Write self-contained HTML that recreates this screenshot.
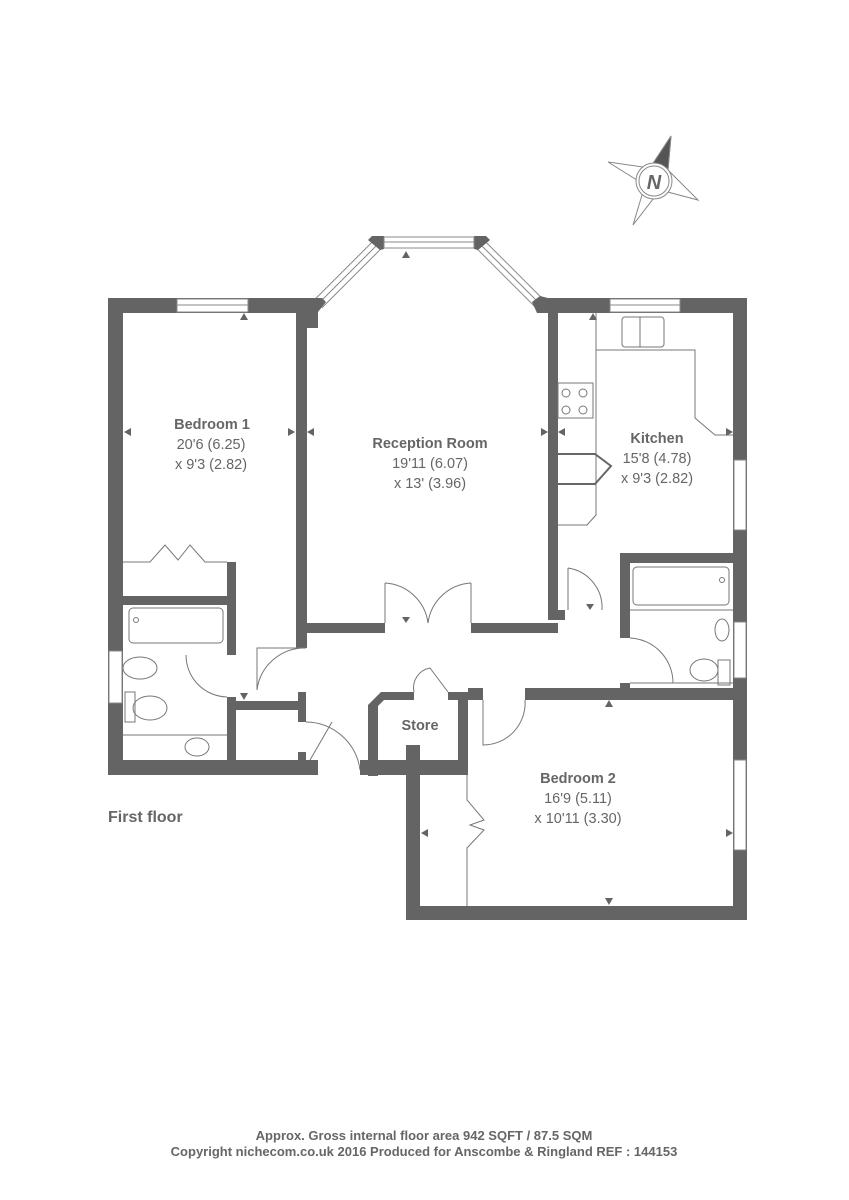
<!DOCTYPE html>
<html><head><meta charset="utf-8"><style>
html,body{margin:0;padding:0;background:#fff;}
svg{display:block}
text{font-family:"Liberation Sans",sans-serif;fill:#666;}
</style></head><body>
<svg width="849" height="1200" viewBox="0 0 849 1200" xmlns="http://www.w3.org/2000/svg">
<!-- bay diagonal windows -->
<g stroke-linecap="butt">
<line x1="318" y1="304" x2="380" y2="242" stroke="#888" stroke-width="12"/>
<line x1="318" y1="304" x2="380" y2="242" stroke="#fff" stroke-width="10"/>
<line x1="318" y1="304" x2="380" y2="242" stroke="#888" stroke-width="1"/>
<line x1="478" y1="242" x2="540" y2="304" stroke="#888" stroke-width="12"/>
<line x1="478" y1="242" x2="540" y2="304" stroke="#fff" stroke-width="10"/>
<line x1="478" y1="242" x2="540" y2="304" stroke="#888" stroke-width="1"/>
</g>
<g fill="#646464">
<rect x="108" y="298" width="15" height="477"/>
<rect x="108" y="298" width="210" height="15"/>
<rect x="108" y="760" width="210" height="15"/>
<rect x="296" y="313" width="11" height="335"/>
<rect x="306" y="298" width="12" height="30"/>
<polygon points="310,298 322,298 326,302 318,312 310,312"/>
<polygon points="372,236 384,236 384,249 380,250 368,240"/>
<polygon points="474,236 486,236 490,240 478,250 474,249"/>
<polygon points="532,302 540,296 548,298 548,313 537,313"/>
<rect x="537" y="298" width="210" height="15"/>
<rect x="548" y="313" width="10" height="307"/>
<rect x="733" y="298" width="14" height="622"/>
<rect x="306" y="623" width="79" height="10"/>
<rect x="471" y="623" width="87" height="10"/>
<rect x="548" y="610" width="17" height="10"/>
<rect x="620" y="553" width="127" height="10"/>
<rect x="620" y="553" width="10" height="85"/>
<rect x="620" y="683" width="10" height="12"/>
<rect x="468" y="688" width="15" height="12"/>
<rect x="525" y="688" width="222" height="12"/>
<rect x="406" y="745" width="14" height="175"/>
<rect x="406" y="906" width="341" height="14"/>
<rect x="458" y="692" width="10" height="83"/>
<polygon points="368,776 368,705 381,692 414,692 414,700 384,700 378,706 378,776"/>
<rect x="448" y="692" width="20" height="8"/>
<rect x="360" y="760" width="108" height="15"/>
<rect x="123" y="596" width="113" height="9"/>
<rect x="227" y="562" width="9" height="93"/>
<rect x="227" y="697" width="9" height="65"/>
<rect x="236" y="701" width="70" height="9"/>
<rect x="298" y="692" width="8" height="30"/>
<rect x="298" y="752" width="8" height="10"/>
<rect x="306" y="760" width="12" height="15"/>
</g>
<g fill="#fff" stroke="#888" stroke-width="1">
<rect x="177" y="299" width="71" height="13"/>
<line x1="177" y1="305" x2="248" y2="305"/>
<rect x="384" y="237" width="90" height="11"/>
<line x1="384" y1="242" x2="474" y2="242"/>
<rect x="610" y="299" width="70" height="13"/>
<line x1="610" y1="305" x2="680" y2="305"/>
<rect x="734" y="460" width="12" height="70"/>
<rect x="734" y="622" width="12" height="56"/>
<rect x="734" y="760" width="12" height="90"/>
<rect x="109" y="651" width="13" height="52"/>
</g>
<g fill="none" stroke="#777" stroke-width="1">
<path d="M385,583 L385,623 M385,583 A46,46 0 0 1 428,623"/>
<path d="M471,583 L471,623 M471,583 A46,46 0 0 0 428,623"/>
<path d="M568,568 L568,610 M568,568 A40,40 0 0 1 602,610"/>
<path d="M630,638 A45,45 0 0 1 673,683 L630,683"/>
<path d="M306,648 L257,648 L257,690 M257,690 A48,48 0 0 1 306,648"/>
<path d="M186,655 A42,42 0 0 0 227,697"/>
<path d="M310,760 L332,722 M306,722 A55,55 0 0 1 360,770"/>
<path d="M483,700 L483,745 A42,42 0 0 0 525,700"/>
<path d="M414,692 A20,20 0 0 1 430,668 L448,692"/>
<path d="M123,562 L150,562 L165,545 L178,560 L190,545 L205,562 L227,562"/>
<path d="M467,775 L467,800 L484,820 L470,825 L484,830 L467,848 L467,906"/>
<rect x="129" y="608" width="94" height="35" rx="4"/>
<circle cx="136" cy="620" r="2.5"/>
<rect x="633" y="567" width="96" height="38" rx="4"/>
<circle cx="722" cy="580" r="2.5"/>
<line x1="630" y1="610" x2="733" y2="610"/>
<ellipse cx="140" cy="668" rx="17" ry="11"/>
<rect x="125" y="692" width="10" height="30"/>
<ellipse cx="150" cy="708" rx="17" ry="12"/>
<line x1="123" y1="735" x2="227" y2="735"/>
<ellipse cx="197" cy="747" rx="12" ry="9"/>
<ellipse cx="722" cy="630" rx="7" ry="11"/>
<rect x="718" y="660" width="12" height="25"/>
<ellipse cx="704" cy="670" rx="14" ry="11"/>
<line x1="630" y1="683" x2="733" y2="683"/>
<path d="M596,313 L596,350 L695,350 L695,418 L715,435 L733,435"/>
<path d="M596,350 L596,515 L587,525 L558,525"/>
<rect x="558" y="383" width="35" height="35"/>
<circle cx="566" cy="393" r="4"/><circle cx="583" cy="393" r="4"/>
<circle cx="566" cy="410" r="4"/><circle cx="583" cy="410" r="4"/>
<rect x="622" y="317" width="42" height="30" rx="3"/>
<line x1="640" y1="317" x2="640" y2="347"/>
<path d="M558,454 L595,454 L611,466 L595,484 L558,484" stroke="#666" stroke-width="2"/>
</g>
<g fill="#646464">
<polygon points="240,320 248,320 244,313"/>
<polygon points="402,258 410,258 406,251"/>
<polygon points="589,320 597,320 593,313"/>
<polygon points="124,432 131,428 131,436"/>
<polygon points="295,432 288,428 288,436"/>
<polygon points="307,432 314,428 314,436"/>
<polygon points="548,432 541,428 541,436"/>
<polygon points="558,432 565,428 565,436"/>
<polygon points="733,432 726,428 726,436"/>
<polygon points="402,617 410,617 406,623"/>
<polygon points="586,604 594,604 590,610"/>
<polygon points="240,693 248,693 244,700"/>
<polygon points="605,707 613,707 609,700"/>
<polygon points="421,833 428,829 428,837"/>
<polygon points="733,833 726,829 726,837"/>
<polygon points="605,898 613,898 609,905"/>
</g>
<g stroke="#888" stroke-width="1" fill="#fff">
<polygon points="671,136 668,170 698,200 660,190 633,225 645,185 608,162 650,168"/>
<polygon points="671,136 650,168 668,170" fill="#555"/>
<circle cx="654" cy="181" r="18"/>
<circle cx="654" cy="181" r="15"/>
</g>
<text x="654" y="189" font-size="20" font-weight="bold" font-style="italic" text-anchor="middle">N</text>
<g text-anchor="middle" font-size="14.5">
<text x="212" y="429" font-weight="bold">Bedroom 1</text>
<text x="211" y="449">20'6 (6.25)</text>
<text x="211" y="469">x 9'3 (2.82)</text>
<text x="430" y="448" font-weight="bold">Reception Room</text>
<text x="430" y="468">19'11 (6.07)</text>
<text x="430" y="488">x 13' (3.96)</text>
<text x="657" y="443" font-weight="bold">Kitchen</text>
<text x="657" y="463">15'8 (4.78)</text>
<text x="657" y="483">x 9'3 (2.82)</text>
<text x="420" y="730" font-weight="bold">Store</text>
<text x="578" y="783" font-weight="bold">Bedroom 2</text>
<text x="578" y="803">16'9 (5.11)</text>
<text x="578" y="823">x 10'11 (3.30)</text>
</g>
<text x="108" y="822" font-size="16" font-weight="bold">First floor</text>
<text x="424" y="1140" font-size="13" font-weight="bold" text-anchor="middle">Approx. Gross internal floor area 942 SQFT / 87.5 SQM</text>
<text x="424" y="1156" font-size="13" font-weight="bold" text-anchor="middle">Copyright nichecom.co.uk 2016 Produced for Anscombe &amp; Ringland REF : 144153</text>
</svg>
</body></html>
